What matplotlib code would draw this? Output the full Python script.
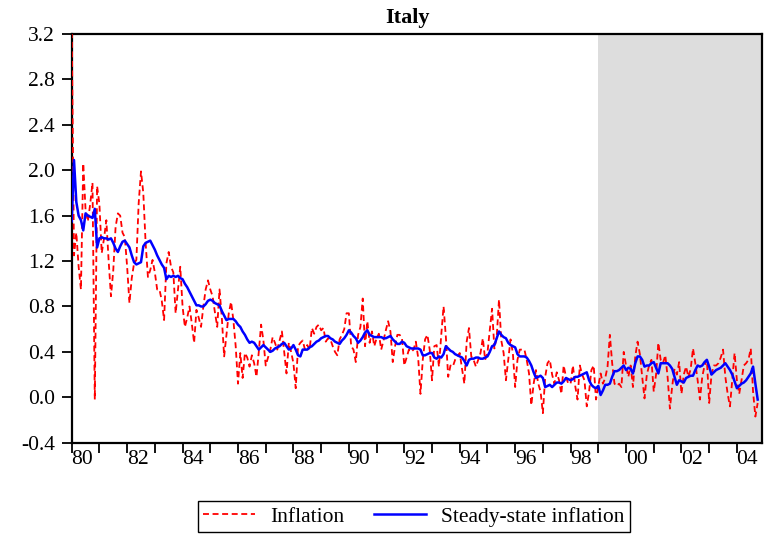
import matplotlib
matplotlib.use("Agg")
import matplotlib.pyplot as plt
import matplotlib.lines as mlines
import numpy as np

plt.rcParams['font.family'] = ['Liberation Serif', 'DejaVu Serif']
plt.rcParams['axes.unicode_minus'] = False

# ---- data (monthly, 1980:01 - 2004:10) ----
start_year = 1980
inflation = [
    3.30, 1.25, 1.45, 1.15, 0.95, 2.06, 1.65, 1.55, 1.70, 1.89, -0.02, 1.86,
    1.70, 1.27, 1.40, 1.56, 1.20, 0.89, 1.12, 1.50, 1.62, 1.60, 1.45, 1.41,
    1.15, 0.83, 1.05, 1.18, 1.21, 1.71, 1.99, 1.80, 1.36, 1.06, 1.12, 1.21,
    1.10, 0.95, 0.95, 0.85, 0.68, 1.18, 1.28, 1.15, 1.10, 0.74, 0.95, 1.15,
    0.80, 0.62, 0.70, 0.80, 0.65, 0.48, 0.77, 0.70, 0.62, 0.80, 0.95, 1.03,
    0.95, 0.89, 0.75, 0.62, 0.95, 0.70, 0.36, 0.55, 0.74, 0.84, 0.68, 0.45,
    0.12, 0.39, 0.17, 0.39, 0.35, 0.27, 0.37, 0.30, 0.18, 0.40, 0.64, 0.50,
    0.28, 0.35, 0.42, 0.53, 0.48, 0.42, 0.50, 0.58, 0.40, 0.21, 0.48, 0.40,
    0.30, 0.08, 0.45, 0.48, 0.50, 0.42, 0.46, 0.42, 0.61, 0.56, 0.62, 0.64,
    0.59, 0.61, 0.49, 0.52, 0.51, 0.45, 0.40, 0.37, 0.51, 0.55, 0.60, 0.74,
    0.74, 0.45, 0.42, 0.31, 0.55, 0.62, 0.87, 0.45, 0.67, 0.48, 0.58, 0.45,
    0.52, 0.56, 0.42, 0.50, 0.59, 0.67, 0.58, 0.31, 0.45, 0.55, 0.55, 0.52,
    0.28, 0.35, 0.42, 0.40, 0.42, 0.49, 0.35, 0.03, 0.33, 0.51, 0.55, 0.42,
    0.15, 0.45, 0.46, 0.27, 0.55, 0.80, 0.53, 0.18, 0.28, 0.27, 0.33, 0.36,
    0.39, 0.25, 0.12, 0.49, 0.61, 0.36, 0.33, 0.27, 0.33, 0.39, 0.52, 0.33,
    0.39, 0.59, 0.78, 0.43, 0.53, 0.86, 0.50, 0.39, 0.15, 0.33, 0.51, 0.39,
    0.09, 0.33, 0.42, 0.42, 0.42, 0.33, 0.21, -0.07, 0.12, 0.24, 0.12, 0.05,
    -0.14, 0.18, 0.30, 0.33, 0.20, 0.12, 0.22, 0.15, 0.03, 0.28, 0.18, 0.12,
    0.12, 0.28, 0.10, -0.02, 0.28, 0.20, 0.15, -0.08, 0.05, 0.24, 0.28, -0.02,
    0.10, 0.21, 0.12, 0.17, 0.27, 0.55, 0.30, 0.12, 0.10, 0.12, 0.09, 0.40,
    0.28, 0.18, 0.28, 0.09, 0.36, 0.49, 0.38, 0.18, -0.01, 0.20, 0.28, 0.33,
    0.05, 0.20, 0.48, 0.33, 0.30, 0.37, 0.18, -0.10, 0.10, 0.25, 0.20, 0.31,
    0.03, 0.20, 0.27, 0.18, 0.25, 0.43, 0.30, 0.15, -0.02, 0.18, 0.28, 0.33,
    -0.05, 0.20, 0.28, 0.28, 0.30, 0.35, 0.42, 0.18, 0.03, -0.08, 0.15, 0.39,
    0.15, 0.03, 0.15, 0.28, 0.30, 0.33, 0.43, 0.05, -0.17, -0.05,
]
steady_state = [
    1.55, 2.09, 1.72, 1.60, 1.56, 1.47, 1.62, 1.60, 1.59, 1.58, 1.66, 1.32,
    1.40, 1.41, 1.40, 1.40, 1.39, 1.40, 1.36, 1.31, 1.28, 1.33, 1.37, 1.38,
    1.35, 1.32, 1.25, 1.19, 1.17, 1.18, 1.19, 1.33, 1.36, 1.37, 1.38, 1.34,
    1.30, 1.25, 1.21, 1.17, 1.14, 1.04, 1.07, 1.06, 1.07, 1.06, 1.07, 1.05,
    1.04, 1.00, 0.97, 0.93, 0.89, 0.85, 0.81, 0.81, 0.80, 0.80, 0.82, 0.85,
    0.86, 0.85, 0.83, 0.82, 0.81, 0.76, 0.72, 0.68, 0.69, 0.69, 0.69, 0.67,
    0.64, 0.62, 0.58, 0.55, 0.51, 0.48, 0.49, 0.48, 0.45, 0.42, 0.44, 0.46,
    0.44, 0.42, 0.40, 0.41, 0.43, 0.44, 0.45, 0.47, 0.48, 0.45, 0.42, 0.43,
    0.46, 0.42, 0.37, 0.36, 0.42, 0.42, 0.42, 0.44, 0.45, 0.47, 0.49, 0.50,
    0.52, 0.53, 0.54, 0.54, 0.52, 0.51, 0.49, 0.48, 0.47, 0.50, 0.52, 0.55,
    0.59, 0.57, 0.54, 0.52, 0.48, 0.50, 0.53, 0.57, 0.59, 0.55, 0.54, 0.53,
    0.53, 0.53, 0.53, 0.52, 0.52, 0.53, 0.54, 0.51, 0.49, 0.47, 0.47, 0.49,
    0.48, 0.45, 0.44, 0.43, 0.43, 0.43, 0.43, 0.42, 0.37, 0.37, 0.38, 0.39,
    0.39, 0.35, 0.34, 0.36, 0.35, 0.38, 0.45, 0.43, 0.41, 0.40, 0.38, 0.37,
    0.36, 0.35, 0.32, 0.28, 0.33, 0.34, 0.34, 0.35, 0.35, 0.34, 0.34, 0.35,
    0.36, 0.40, 0.45, 0.46, 0.52, 0.58, 0.55, 0.53, 0.52, 0.48, 0.46, 0.45,
    0.44, 0.38, 0.36, 0.36, 0.36, 0.35, 0.32, 0.28, 0.22, 0.17, 0.18, 0.19,
    0.17, 0.09, 0.10, 0.11, 0.09, 0.11, 0.13, 0.13, 0.12, 0.14, 0.17, 0.16,
    0.15, 0.16, 0.18, 0.18, 0.19, 0.20, 0.21, 0.22, 0.15, 0.11, 0.09, 0.08,
    0.10, 0.02, 0.06, 0.11, 0.11, 0.12, 0.18, 0.23, 0.23, 0.24, 0.26, 0.28,
    0.24, 0.26, 0.25, 0.21, 0.30, 0.36, 0.36, 0.33, 0.27, 0.28, 0.28, 0.30,
    0.31, 0.26, 0.21, 0.30, 0.30, 0.30, 0.30, 0.28, 0.25, 0.18, 0.11, 0.15,
    0.14, 0.13, 0.17, 0.18, 0.19, 0.19, 0.24, 0.28, 0.27, 0.28, 0.31, 0.33,
    0.27, 0.20, 0.22, 0.24, 0.25, 0.26, 0.28, 0.30, 0.27, 0.24, 0.20, 0.14,
    0.08, 0.10, 0.12, 0.13, 0.15, 0.18, 0.21, 0.27, 0.12, -0.02,
]
shade_start = 1999.0
year_ticks = list(range(1980, 2005))
year_labels = ['80', '82', '84', '86', '88', '90', '92', '94', '96', '98', '00', '02', '04']
y_ticks = [-0.4, 0.0, 0.4, 0.8, 1.2, 1.6, 2.0, 2.4, 2.8, 3.2]
series_names = ['Inflation', 'Steady-state inflation']

t = start_year + np.arange(len(inflation)) / 12.0
x_end = start_year + len(inflation) / 12.0 + 1.0 / 12.0

fig = plt.figure(figsize=(7.67, 5.35), dpi=100)
ax = fig.add_axes([71.7 / 767, 1 - 442.7 / 535, (762.3 - 71.7) / 767, (442.7 - 34) / 535])

ax.axvspan(shade_start, x_end, color='#DDDDDD', zorder=0, lw=0)
ax.plot(t, inflation, color='#FF0000', lw=1.3, dashes=(3.3, 2.0), zorder=6)
ax.plot(t, steady_state, color='#0000FF', lw=1.8, zorder=7)

ax.set_xlim(start_year, x_end)
ax.set_ylim(-0.4, 3.2)

ax.set_yticks(y_ticks)
ax.set_yticklabels(['%.1f' % v for v in y_ticks])
ax.set_xticks(year_ticks)
ax.set_xticklabels([])
label_pos = [(1900 if int(s) >= 50 else 2000) + int(s) + 0.38 for s in year_labels]
ax.set_xticks(label_pos, minor=True)
ax.set_xticklabels(year_labels, minor=True)

ax.tick_params(axis='both', which='major', direction='out', length=7, width=1.3, labelsize=15.5)
ax.tick_params(axis='x', which='minor', length=0, pad=5, labelsize=15.5)
ax.tick_params(axis='y', which='major', pad=5)
for sp in ax.spines.values():
    sp.set_linewidth(1.6)
    sp.set_zorder(5)

fig.text(408 / 767, 1 - 18 / 535, 'Italy', ha='center', va='center', fontsize=16, fontweight='bold')

h1 = mlines.Line2D([], [], color='#FF0000', lw=1.3, dashes=(3.3, 2.0))
h2 = mlines.Line2D([], [], color='#0000FF', lw=1.8)
leg = fig.legend([h1, h2], series_names, loc='center', bbox_to_anchor=(414 / 767, 1 - 516.5 / 535),
                 ncol=2, frameon=True, fancybox=False, edgecolor='black', framealpha=1,
                 fontsize=15.5, handlelength=2.4, handletextpad=0.7, columnspacing=1.4,
                 borderpad=0.25)
leg.get_frame().set_linewidth(1.0)

fig.savefig('out.png', dpi=100)
